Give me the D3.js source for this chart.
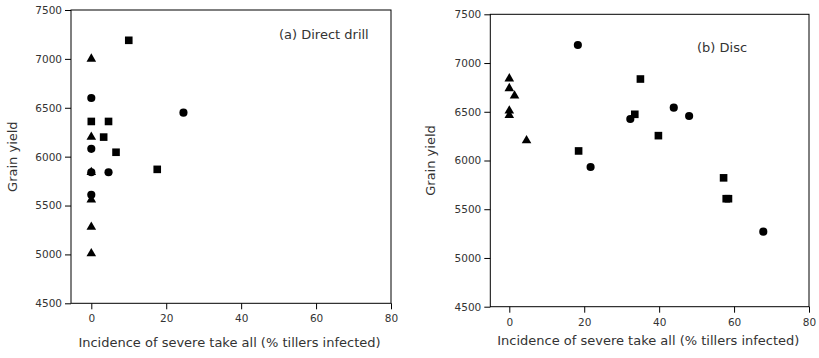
<!DOCTYPE html>
<html>
<head>
<meta charset="utf-8">
<script src="https://cdn.jsdelivr.net/npm/d3@7"></script>
<style>
  html, body { margin: 0; padding: 0; background: #fff; }
  svg { display: block; font-family: "DejaVu Sans", Verdana, sans-serif; }
  .tick text { fill: #333; font-size: 10.5px; font-family: "DejaVu Sans", Verdana, sans-serif; }
  .tick line { stroke: #000; }
  .title { fill: #333; font-size: 13px; }
</style>
</head>
<body>
<svg id="chart" width="819" height="358"></svg>
<script>
// ---- Data: [incidence %, grain yield] ----
const yTicks = [4500, 5000, 5500, 6000, 6500, 7000, 7500];
const xTicks = [0, 20, 40, 60, 80];

const ddTriangles = [[0, 7000], [0, 6200], [0, 5840], [0, 5560], [0, 5280], [0, 5010]];
const ddCircles = [[0, 6600], [0, 6080], [0, 5840], [0, 5610], [4.6, 5840], [24.6, 6450]];
const ddSquares = [[10.0, 7190], [0, 6360], [4.6, 6360], [3.3, 6200], [6.6, 6045], [17.6, 5870]];

const discTriangles = [[0, 6840], [0, 6740], [1.4, 6665], [0, 6510], [0, 6465], [4.6, 6205]];
const discCircles = [[18.3, 7185], [21.7, 5933], [32.3, 6426], [43.9, 6542], [48.0, 6457], [67.8, 5270]];
const discSquares = [[35.0, 6836], [33.5, 6474], [18.5, 6098], [39.8, 6255], [57.2, 5822], [57.9, 5608], [58.5, 5608]];

const panels = [
  { label: "(a) Direct drill", tri: ddTriangles, cir: ddCircles, sq: ddSquares,
    left: 71, x0: 91.3, x80: 391, top: 10, bottom: 303.3,
    labelX: 279, labelY: 39, yTitleX: 17, xTitleX: 229.5, xTitleY: 347 },
  { label: "(b) Disc", tri: discTriangles, cir: discCircles, sq: discSquares,
    left: 490.3, x0: 509.3, x80: 809, top: 14.3, bottom: 306.7,
    labelX: 697, labelY: 52, yTitleX: 435, xTitleX: 648.3, xTitleY: 345 }
];

const svg = d3.select("#chart");

const shapes = [
  { key: "cir", type: d3.symbolCircle, size: 52 },
  { key: "sq", type: d3.symbolSquare, size: 58 },
  { key: "tri", type: d3.symbolTriangle, size: 40 }
];

panels.forEach(p => {
  const x = d3.scaleLinear().domain([0, 80]).range([p.x0, p.x80]);
  const y = d3.scaleLinear().domain([4500, 7500]).range([p.bottom, p.top]);
  const g = svg.append("g");

  // frame
  g.append("rect")
    .attr("x", p.left).attr("y", p.top)
    .attr("width", p.x80 - p.left).attr("height", p.bottom - p.top)
    .attr("fill", "none").attr("stroke", "#000").attr("stroke-width", 1);

  // axes
  g.append("g")
    .attr("transform", `translate(${p.left},0)`)
    .call(d3.axisLeft(y).tickValues(yTicks).tickSize(6).tickSizeOuter(0).tickFormat(d3.format("d")))
    .call(a => a.select(".domain").remove());

  g.append("g")
    .attr("transform", `translate(0,${p.bottom})`)
    .call(d3.axisBottom(x).tickValues(xTicks).tickSize(6).tickSizeOuter(0))
    .call(a => a.select(".domain").remove())
    .call(a => a.selectAll("text").attr("dy", "0.95em"));

  // markers
  shapes.forEach(s => {
    g.selectAll(null)
      .data(p[s.key])
      .join("path")
      .attr("d", d3.symbol().type(s.type).size(s.size))
      .attr("transform", d => `translate(${x(d[0])},${y(d[1])})`)
      .attr("fill", "#000");
  });

  // titles
  g.append("text").attr("class", "title")
    .attr("x", p.xTitleX).attr("y", p.xTitleY)
    .attr("text-anchor", "middle")
    .text("Incidence of severe take all (% tillers infected)");

  g.append("text").attr("class", "title")
    .attr("transform", `translate(${p.yTitleX},${(p.top + p.bottom) / 2})rotate(-90)`)
    .attr("text-anchor", "middle")
    .text("Grain yield");

  g.append("text").attr("class", "title")
    .attr("x", p.labelX).attr("y", p.labelY)
    .text(p.label);
});
</script>
</body>
</html>
